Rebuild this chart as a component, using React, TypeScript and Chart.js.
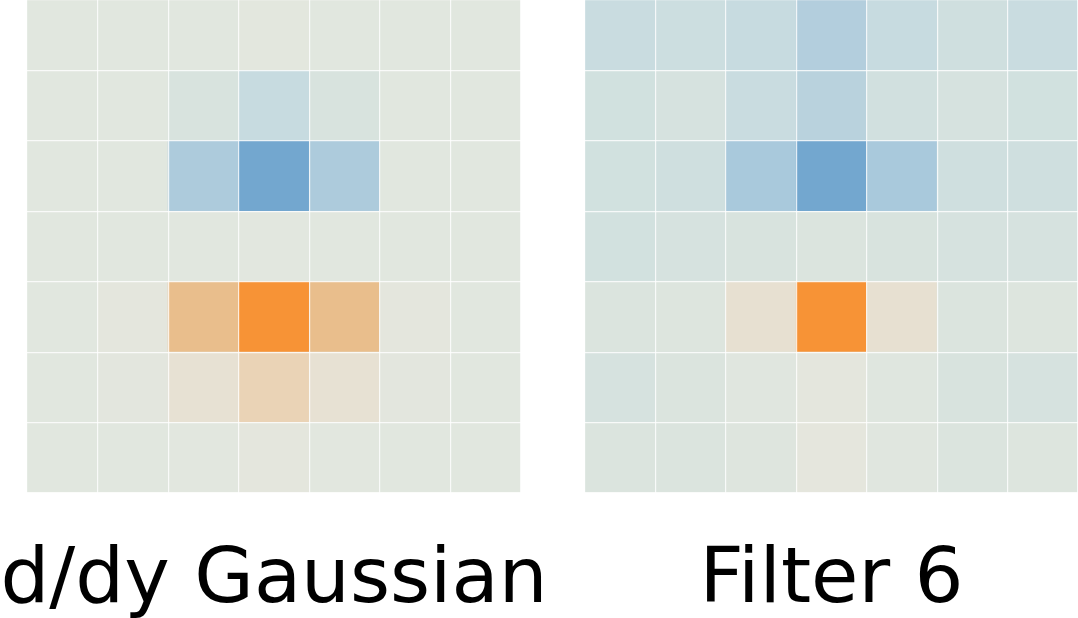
import React, { useEffect, useRef } from "react";
import { Chart, registerables } from "chart.js";

Chart.register(...registerables);

const columns = ["0", "1", "2", "3", "4", "5", "6"];

// Rows listed top to bottom; values are filter weights (negative = blue, positive = orange)
const gaussianRows: number[][] = [
  [0, 0, 0, 0.02, 0, 0, 0],
  [0, 0, -0.09, -0.3, -0.09, 0, 0],
  [0, 0, -0.56, -1, -0.56, 0, 0],
  [0, 0, 0, 0.01, 0, 0, 0],
  [0, 0.04, 0.6, 1, 0.6, 0.04, 0],
  [0, 0.03, 0.13, 0.3, 0.13, 0.03, 0],
  [0, 0, 0.01, 0.04, 0.01, 0, 0],
];

const filter6Rows: number[][] = [
  [-0.27, -0.23, -0.3, -0.51, -0.3, -0.19, -0.27],
  [-0.16, -0.11, -0.27, -0.45, -0.17, -0.11, -0.16],
  [-0.16, -0.19, -0.6, -1, -0.6, -0.19, -0.19],
  [-0.15, -0.11, -0.09, -0.06, -0.09, -0.11, -0.11],
  [-0.06, -0.04, 0.15, 1, 0.15, -0.06, -0.04],
  [-0.11, -0.06, -0.01, 0.04, -0.02, -0.09, -0.11],
  [-0.06, -0.06, -0.03, 0.05, -0.01, -0.06, -0.04],
];

const titles = ["d/dy Gaussian", "Filter 6"];

const colorStops: [number, number[]][] = [
  [-1.0, [115, 167, 207]],
  [-0.6, [169, 201, 220]],
  [-0.45, [185, 210, 221]],
  [-0.3, [199, 219, 224]],
  [-0.15, [210, 225, 223]],
  [-0.05, [220, 228, 222]],
  [0, [225, 231, 223]],
  [0.05, [229, 230, 221]],
  [0.15, [231, 224, 209]],
  [0.3, [234, 211, 182]],
  [0.6, [233, 190, 140]],
  [1.0, [247, 147, 54]],
];

function colormap(v: number): string {
  if (v <= colorStops[0][0]) return `rgb(${colorStops[0][1].join(",")})`;
  for (let i = 1; i < colorStops.length; i++) {
    const [v1, c1] = colorStops[i];
    const [v0, c0] = colorStops[i - 1];
    if (v <= v1) {
      const t = (v - v0) / (v1 - v0);
      const c = c0.map((x, k) => Math.round(x + (c1[k] - x) * t));
      return `rgb(${c.join(",")})`;
    }
  }
  const last = colorStops[colorStops.length - 1][1];
  return `rgb(${last.join(",")})`;
}

const bottomTitlePlugin = {
  id: "bottomTitle",
  afterDraw(chart: any, _args: any, opts: any) {
    const { ctx, chartArea } = chart;
    ctx.save();
    ctx.fillStyle = "#000";
    ctx.font = `normal ${opts.size}px "DejaVu Sans"`;
    ctx.textAlign = "center";
    ctx.textBaseline = "alphabetic";
    ctx.fillText(opts.text, (chartArea.left + chartArea.right) / 2, chartArea.bottom + opts.offset);
    ctx.restore();
  },
};

function makeConfig(rows: number[][], title: string, padLeft: number, padRight: number): any {
  const n = rows.length;
  const datasets = [];
  for (let k = 0; k < n; k++) {
    const row = rows[n - 1 - k]; // bottom row first in the stack
    datasets.push({
      label: `row ${n - 1 - k}`,
      data: row.map(() => 1),
      backgroundColor: row.map((v) => colormap(v)),
      borderWidth: 0,
      barPercentage: 1,
      categoryPercentage: 1,
    });
  }
  return {
    type: "bar",
    data: { labels: columns, datasets },
    plugins: [bottomTitlePlugin],
    options: {
      animation: false,
      responsive: false,
      layout: { padding: { left: padLeft, right: padRight, top: 0, bottom: 125 } },
      plugins: {
        legend: { display: false },
        tooltip: { enabled: false },
        title: { display: false },
        bottomTitle: { text: title, size: 77, offset: 108.5 },
      },
      scales: {
        x: {
          stacked: true,
          offset: true,
          ticks: { display: false },
          border: { display: false },
          grid: {
            offset: true,
            drawTicks: false,
            color: "rgba(255,255,255,0.8)",
            lineWidth: 1.2,
            z: 1,
          },
        },
        y: {
          stacked: true,
          min: 0,
          max: n,
          ticks: { display: false, stepSize: 1 },
          border: { display: false },
          grid: {
            drawTicks: false,
            color: "rgba(255,255,255,0.8)",
            lineWidth: 1.2,
            z: 1,
          },
        },
      },
    },
  };
}

function Heat({ rows, title, left, width, padLeft, padRight }: any) {
  const ref = useRef<HTMLCanvasElement | null>(null);
  useEffect(() => {
    if (!ref.current) return;
    const chart = new Chart(ref.current, makeConfig(rows, title, padLeft, padRight));
    return () => chart.destroy();
  }, []);
  return (
    <canvas
      ref={ref}
      width={width}
      height={618}
      style={{ position: "absolute", left, top: 0, width, height: 618, display: "block" }}
    />
  );
}

export default function App() {
  return (
    <div style={{ position: "absolute", left: 0, top: 0, width: 1078, height: 618, background: "#fff" }}>
      <Heat rows={gaussianRows} title={titles[0]} left={0} width={552} padLeft={27} padRight={31} />
      <Heat rows={filter6Rows} title={titles[1]} left={552} width={526} padLeft={33} padRight={0} />
    </div>
  );
}
